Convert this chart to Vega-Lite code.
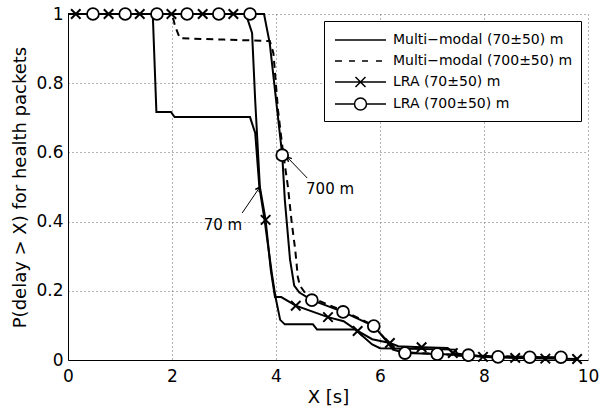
{
  "$schema": "https://vega.github.io/schema/vega-lite/v6.json",
  "width": 520,
  "height": 346,
  "autosize": {"type": "none"},
  "padding": {"left": 68, "top": 14, "right": 12, "bottom": 51},
  "background": "white",
  "config": {
    "view": {"stroke": null},
    "font": "DejaVu Sans",
    "axis": {
      "domainColor": "black",
      "domainWidth": 1,
      "grid": true,
      "gridColor": "#666666",
      "gridDash": [1, 3],
      "gridWidth": 1,
      "ticks": false,
      "labelColor": "black",
      "labelFont": "DejaVu Sans",
      "labelFontSize": 17,
      "labelFlush": false,
      "labelOverlap": false,
      "titleFont": "DejaVu Sans",
      "titleFontSize": 18,
      "titleFontWeight": "normal",
      "titleColor": "black"
    },
    "legend": {
      "strokeColor": "black",
      "fillColor": "white",
      "padding": 8,
      "labelFont": "DejaVu Sans",
      "labelFontSize": 14,
      "labelColor": "black",
      "labelLimit": 400
    }
  },
  "datasets": {
    "lines": [
      {"series": "Multi−modal (70±50) m", "x": 0, "y": 1},
      {"series": "Multi−modal (70±50) m", "x": 1.63, "y": 1},
      {"series": "Multi−modal (70±50) m", "x": 1.7, "y": 0.717},
      {"series": "Multi−modal (70±50) m", "x": 1.98, "y": 0.717},
      {"series": "Multi−modal (70±50) m", "x": 2.05, "y": 0.702},
      {"series": "Multi−modal (70±50) m", "x": 3.5, "y": 0.702},
      {"series": "Multi−modal (70±50) m", "x": 3.6, "y": 0.656},
      {"series": "Multi−modal (70±50) m", "x": 3.68, "y": 0.5},
      {"series": "Multi−modal (70±50) m", "x": 3.78, "y": 0.405},
      {"series": "Multi−modal (70±50) m", "x": 3.92, "y": 0.25},
      {"series": "Multi−modal (70±50) m", "x": 3.99, "y": 0.182},
      {"series": "Multi−modal (70±50) m", "x": 4.08, "y": 0.116},
      {"series": "Multi−modal (70±50) m", "x": 4.17, "y": 0.103},
      {"series": "Multi−modal (70±50) m", "x": 4.71, "y": 0.103},
      {"series": "Multi−modal (70±50) m", "x": 4.79, "y": 0.088},
      {"series": "Multi−modal (70±50) m", "x": 5.52, "y": 0.088},
      {"series": "Multi−modal (70±50) m", "x": 5.85, "y": 0.045},
      {"series": "Multi−modal (70±50) m", "x": 6.0, "y": 0.034},
      {"series": "Multi−modal (70±50) m", "x": 7.45, "y": 0.03},
      {"series": "Multi−modal (70±50) m", "x": 7.5, "y": 0.012},
      {"series": "Multi−modal (70±50) m", "x": 9.6, "y": 0.006},
      {"series": "Multi−modal (700±50) m", "x": 0, "y": 1},
      {"series": "Multi−modal (700±50) m", "x": 2.0, "y": 1},
      {"series": "Multi−modal (700±50) m", "x": 2.06, "y": 0.965},
      {"series": "Multi−modal (700±50) m", "x": 2.15, "y": 0.93},
      {"series": "Multi−modal (700±50) m", "x": 3.0, "y": 0.926},
      {"series": "Multi−modal (700±50) m", "x": 3.88, "y": 0.922},
      {"series": "Multi−modal (700±50) m", "x": 3.95, "y": 0.887},
      {"series": "Multi−modal (700±50) m", "x": 4.04, "y": 0.72},
      {"series": "Multi−modal (700±50) m", "x": 4.13, "y": 0.607},
      {"series": "Multi−modal (700±50) m", "x": 4.23, "y": 0.5},
      {"series": "Multi−modal (700±50) m", "x": 4.3, "y": 0.4},
      {"series": "Multi−modal (700±50) m", "x": 4.37, "y": 0.318},
      {"series": "Multi−modal (700±50) m", "x": 4.42, "y": 0.24},
      {"series": "Multi−modal (700±50) m", "x": 4.46, "y": 0.215},
      {"series": "Multi−modal (700±50) m", "x": 4.6, "y": 0.185},
      {"series": "Multi−modal (700±50) m", "x": 5.29, "y": 0.142},
      {"series": "Multi−modal (700±50) m", "x": 5.88, "y": 0.1},
      {"series": "Multi−modal (700±50) m", "x": 6.1, "y": 0.06},
      {"series": "Multi−modal (700±50) m", "x": 6.25, "y": 0.032},
      {"series": "Multi−modal (700±50) m", "x": 6.5, "y": 0.022},
      {"series": "Multi−modal (700±50) m", "x": 7.7, "y": 0.013},
      {"series": "Multi−modal (700±50) m", "x": 9.5, "y": 0.007},
      {"series": "LRA (70±50) m", "x": 0, "y": 1},
      {"series": "LRA (70±50) m", "x": 3.42, "y": 1},
      {"series": "LRA (70±50) m", "x": 3.54, "y": 0.945},
      {"series": "LRA (70±50) m", "x": 3.6, "y": 0.75},
      {"series": "LRA (70±50) m", "x": 3.69, "y": 0.5},
      {"series": "LRA (70±50) m", "x": 3.8, "y": 0.405},
      {"series": "LRA (70±50) m", "x": 3.9, "y": 0.26},
      {"series": "LRA (70±50) m", "x": 3.98, "y": 0.182},
      {"series": "LRA (70±50) m", "x": 4.1, "y": 0.182},
      {"series": "LRA (70±50) m", "x": 4.38, "y": 0.157},
      {"series": "LRA (70±50) m", "x": 5.0, "y": 0.124},
      {"series": "LRA (70±50) m", "x": 5.3, "y": 0.112},
      {"series": "LRA (70±50) m", "x": 5.57, "y": 0.084},
      {"series": "LRA (70±50) m", "x": 5.85, "y": 0.06},
      {"series": "LRA (70±50) m", "x": 6.19, "y": 0.049},
      {"series": "LRA (70±50) m", "x": 6.35, "y": 0.04},
      {"series": "LRA (70±50) m", "x": 6.8, "y": 0.037},
      {"series": "LRA (70±50) m", "x": 7.3, "y": 0.035},
      {"series": "LRA (70±50) m", "x": 7.4, "y": 0.02},
      {"series": "LRA (70±50) m", "x": 7.98, "y": 0.009},
      {"series": "LRA (70±50) m", "x": 8.6, "y": 0.006},
      {"series": "LRA (70±50) m", "x": 9.18, "y": 0.004},
      {"series": "LRA (70±50) m", "x": 9.79, "y": 0.003},
      {"series": "LRA (700±50) m", "x": 0, "y": 1},
      {"series": "LRA (700±50) m", "x": 3.77, "y": 1},
      {"series": "LRA (700±50) m", "x": 3.88, "y": 0.915},
      {"series": "LRA (700±50) m", "x": 4.12, "y": 0.592},
      {"series": "LRA (700±50) m", "x": 4.17, "y": 0.462},
      {"series": "LRA (700±50) m", "x": 4.27, "y": 0.29},
      {"series": "LRA (700±50) m", "x": 4.35, "y": 0.215},
      {"series": "LRA (700±50) m", "x": 4.45, "y": 0.195},
      {"series": "LRA (700±50) m", "x": 4.69, "y": 0.173},
      {"series": "LRA (700±50) m", "x": 5.29, "y": 0.139},
      {"series": "LRA (700±50) m", "x": 5.88, "y": 0.098},
      {"series": "LRA (700±50) m", "x": 6.1, "y": 0.06},
      {"series": "LRA (700±50) m", "x": 6.25, "y": 0.03},
      {"series": "LRA (700±50) m", "x": 6.48, "y": 0.02},
      {"series": "LRA (700±50) m", "x": 7.1, "y": 0.017},
      {"series": "LRA (700±50) m", "x": 7.7, "y": 0.014},
      {"series": "LRA (700±50) m", "x": 8.27, "y": 0.009},
      {"series": "LRA (700±50) m", "x": 8.88, "y": 0.008},
      {"series": "LRA (700±50) m", "x": 9.48, "y": 0.008}
    ],
    "markers": [
      {"series": "LRA (70±50) m", "x": 0.15, "y": 1},
      {"series": "LRA (70±50) m", "x": 0.78, "y": 1},
      {"series": "LRA (70±50) m", "x": 1.38, "y": 1},
      {"series": "LRA (70±50) m", "x": 1.99, "y": 1},
      {"series": "LRA (70±50) m", "x": 2.59, "y": 1},
      {"series": "LRA (70±50) m", "x": 3.18, "y": 1},
      {"series": "LRA (70±50) m", "x": 3.8, "y": 0.405},
      {"series": "LRA (70±50) m", "x": 4.38, "y": 0.157},
      {"series": "LRA (70±50) m", "x": 5.0, "y": 0.124},
      {"series": "LRA (70±50) m", "x": 5.57, "y": 0.084},
      {"series": "LRA (70±50) m", "x": 6.19, "y": 0.049},
      {"series": "LRA (70±50) m", "x": 6.8, "y": 0.037},
      {"series": "LRA (70±50) m", "x": 7.4, "y": 0.02},
      {"series": "LRA (70±50) m", "x": 7.98, "y": 0.009},
      {"series": "LRA (70±50) m", "x": 8.6, "y": 0.006},
      {"series": "LRA (70±50) m", "x": 9.18, "y": 0.004},
      {"series": "LRA (70±50) m", "x": 9.79, "y": 0.003},
      {"series": "LRA (700±50) m", "x": 0.48, "y": 1},
      {"series": "LRA (700±50) m", "x": 1.1, "y": 1},
      {"series": "LRA (700±50) m", "x": 1.71, "y": 1},
      {"series": "LRA (700±50) m", "x": 2.29, "y": 1},
      {"series": "LRA (700±50) m", "x": 2.9, "y": 1},
      {"series": "LRA (700±50) m", "x": 3.5, "y": 1},
      {"series": "LRA (700±50) m", "x": 4.12, "y": 0.592},
      {"series": "LRA (700±50) m", "x": 4.69, "y": 0.173},
      {"series": "LRA (700±50) m", "x": 5.29, "y": 0.139},
      {"series": "LRA (700±50) m", "x": 5.88, "y": 0.098},
      {"series": "LRA (700±50) m", "x": 6.48, "y": 0.02},
      {"series": "LRA (700±50) m", "x": 7.1, "y": 0.017},
      {"series": "LRA (700±50) m", "x": 7.7, "y": 0.014},
      {"series": "LRA (700±50) m", "x": 8.27, "y": 0.009},
      {"series": "LRA (700±50) m", "x": 8.88, "y": 0.008},
      {"series": "LRA (700±50) m", "x": 9.48, "y": 0.008}
    ],
    "arrows": [
      {"label": "70 m", "x": 3.35, "y": 0.425, "x2": 3.69, "y2": 0.5, "tx": 2.98, "ty": 0.39, "angle": 35},
      {"label": "700 m", "x": 4.6, "y": 0.526, "x2": 4.21, "y2": 0.587, "tx": 5.04, "ty": 0.494, "angle": 316}
    ]
  },
  "layer": [
    {
      "data": {"name": "lines"},
      "transform": [{"filter": "datum.series != 'Multi−modal (700±50) m'"}],
      "mark": {"type": "line", "stroke": "black", "strokeWidth": 2},
      "encoding": {
        "x": {"field": "x", "type": "quantitative", "scale": {"domain": [0, 10], "nice": false},
              "axis": {"values": [0, 2, 4, 6, 8, 10], "title": "X [s]", "labelPadding": 8, "titlePadding": 4}},
        "y": {"field": "y", "type": "quantitative", "scale": {"domain": [0, 1], "nice": false},
              "axis": {"values": [0, 0.2, 0.4, 0.6, 0.8, 1], "format": "~g", "title": "P(delay > X) for health packets", "labelPadding": 5, "titlePadding": 6}},
        "detail": {"field": "series", "type": "nominal"}
      }
    },
    {
      "data": {"name": "lines"},
      "transform": [{"filter": "datum.series == 'Multi−modal (700±50) m'"}],
      "mark": {"type": "line", "stroke": "black", "strokeWidth": 2, "strokeDash": [7, 5]},
      "encoding": {
        "x": {"field": "x", "type": "quantitative"},
        "y": {"field": "y", "type": "quantitative"}
      }
    },
    {
      "data": {"name": "arrows"},
      "mark": {"type": "rule", "stroke": "black", "strokeWidth": 1},
      "encoding": {
        "x": {"field": "x", "type": "quantitative"},
        "y": {"field": "y", "type": "quantitative"},
        "x2": {"field": "x2"},
        "y2": {"field": "y2"}
      }
    },
    {
      "data": {"name": "arrows"},
      "mark": {"type": "point", "shape": "M-0.6,1.2L0,0L0.6,1.2", "size": 60, "filled": false, "stroke": "black", "strokeWidth": 1.5, "opacity": 1},
      "encoding": {
        "x": {"field": "x2", "type": "quantitative"},
        "y": {"field": "y2", "type": "quantitative"},
        "angle": {"field": "angle", "type": "quantitative", "scale": null}
      }
    },
    {
      "data": {"name": "arrows"},
      "mark": {"type": "text", "fontSize": 15, "font": "DejaVu Sans", "color": "black"},
      "encoding": {
        "x": {"field": "tx", "type": "quantitative"},
        "y": {"field": "ty", "type": "quantitative"},
        "text": {"field": "label"}
      }
    },
    {
      "data": {"name": "lines"},
      "transform": [{"filter": "datum.x >= 9.4"}],
      "mark": {"type": "point", "filled": true, "fill": "white", "stroke": "black", "strokeWidth": 2, "size": 400, "opacity": 1},
      "encoding": {
        "x": {"field": "y", "type": "quantitative"},
        "y": {"field": "x", "type": "quantitative"},
        "shape": {"field": "series", "type": "nominal",
          "scale": {"domain": ["Multi−modal (70±50) m", "Multi−modal (700±50) m", "LRA (70±50) m", "LRA (700±50) m"],
                    "range": ["M-0.8,0L4.3,0",
                              "M-0.8,0L-0.1,0M0.6,0L1.2,0M1.9,0L2.5,0M3.3,0L3.9,0",
                              "M-0.8,0L4.3,0M1.25,-0.5L2.25,0.5M1.25,0.5L2.25,-0.5",
                              "M-0.8,0L1.15,0M2.35,0L4.3,0M2.35,0A0.6,0.6,0,1,1,1.15,0A0.6,0.6,0,1,1,2.35,0Z"]},
          "legend": {"title": null, "orient": "top-right", "offset": 7, "symbolSize": 400, "labelOffset": 39, "rowPadding": 3}}
      }
    },
    {
      "data": {"name": "markers"},
      "transform": [{"filter": "datum.series == 'LRA (70±50) m'"}],
      "mark": {"type": "point", "shape": "M-1,-1L1,1M-1,1L1,-1", "size": 90, "filled": false, "stroke": "black", "strokeWidth": 2, "opacity": 1},
      "encoding": {
        "x": {"field": "x", "type": "quantitative"},
        "y": {"field": "y", "type": "quantitative"}
      }
    },
    {
      "data": {"name": "markers"},
      "transform": [{"filter": "datum.series == 'LRA (700±50) m'"}],
      "mark": {"type": "point", "shape": "circle", "size": 140, "filled": true, "fill": "white", "stroke": "black", "strokeWidth": 1.8, "opacity": 1},
      "encoding": {
        "x": {"field": "x", "type": "quantitative"},
        "y": {"field": "y", "type": "quantitative"}
      }
    }
  ]
}
